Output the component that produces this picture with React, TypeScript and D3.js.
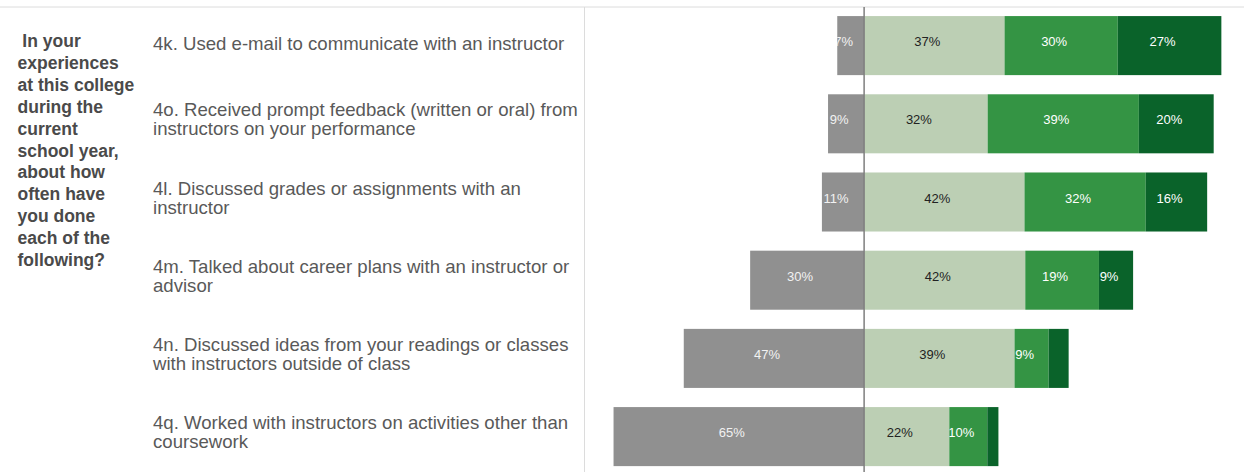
import React from "react";
import * as d3 from "d3";

const rowLabels: string[][] = [
  ["4k. Used e-mail to communicate with an instructor"],
  ["4o. Received prompt feedback (written or oral) from", "instructors on your performance"],
  ["4l. Discussed grades or assignments with an", "instructor"],
  ["4m. Talked about career plans with an instructor or", "advisor"],
  ["4n. Discussed ideas from your readings or classes", "with instructors outside of class"],
  ["4q. Worked with instructors on activities other than", "coursework"],
];
const rowIds = ["4k", "4o", "4l", "4m", "4n", "4q"];

const neverVals = [7.0, 9.4, 11.0, 29.7, 47.0, 65.3];
const sometimesVals = [36.6, 32.2, 41.8, 42.0, 39.2, 22.2];
const oftenVals = [29.5, 39.4, 31.6, 19.2, 8.9, 9.9];
const veryOftenVals = [27.0, 19.5, 16.0, 8.9, 5.2, 2.9];

const questionLines = [
  " In your",
  "experiences",
  "at this college",
  "during the",
  "current",
  "school year,",
  "about how",
  "often have",
  "you done",
  "each of the",
  "following?",
];

const W = 1244;
const H = 472;
const FONT = "Arial, 'Liberation Sans', Helvetica, sans-serif";

const positiveSeries = [
  { key: "sometimes", values: sometimesVals, fill: "#bccfb4", text: "#222222" },
  { key: "often", values: oftenVals, fill: "#349444", text: "#ffffff" },
  { key: "veryOften", values: veryOftenVals, fill: "#0a632a", text: "#ffffff" },
];

export default function App() {
  const x = d3.scaleLinear().domain([-73, 99]).range([584, 1244]);
  const y = d3
    .scaleBand<string>()
    .domain(rowIds)
    .range([6.5, 475.7])
    .paddingInner(0.245)
    .paddingOuter(0.1225);
  const bw = y.bandwidth();

  type Seg = { id: string; row: number; x0: number; x1: number; v: number; fill: string; text: string };
  const segs: Seg[] = [];
  rowIds.forEach((id, i) => {
    segs.push({ id: `${id}-never`, row: i, x0: x(-neverVals[i]), x1: x(0), v: neverVals[i], fill: "#909090", text: "#f2f2f2" });
    let acc = 0;
    positiveSeries.forEach((s) => {
      const v = s.values[i];
      segs.push({ id: `${id}-${s.key}`, row: i, x0: x(acc), x1: x(acc + v), v, fill: s.fill, text: s.text });
      acc += v;
    });
  });

  return (
    <svg
      width={W}
      height={H}
      style={{ position: "absolute", left: 0, top: 0, background: "#fff" }}
      fontFamily={FONT}
    >
      <defs>
        {segs.map((s) => (
          <clipPath id={`clip-${s.id}`} key={s.id}>
            <rect x={s.x0} y={y(rowIds[s.row])!} width={s.x1 - s.x0} height={bw} />
          </clipPath>
        ))}
      </defs>
      <line x1={0} x2={W} y1={7} y2={7} stroke="#dcdcdc" strokeWidth={1} />
      <line x1={584.5} x2={584.5} y1={7} y2={H} stroke="#dcdcdc" strokeWidth={1} />

      {questionLines.map((t, i) => (
        <text
          key={i}
          x={17.5}
          y={47 + i * 21.9}
          fontSize={17.5}
          fontWeight="bold"
          fill="#4a4a4a"
          style={{ whiteSpace: "pre" }}
        >
          {t}
        </text>
      ))}

      {rowLabels.map((lines, i) => {
        const c = y(rowIds[i])! + bw / 2;
        const first = c + 4.5 - (lines.length - 1) * 12;
        return (
          <text key={i} fontSize={18.6} fill="#595959">
            {lines.map((l, j) => (
              <tspan key={j} x={153} y={first + j * 19}>
                {l}
              </tspan>
            ))}
          </text>
        );
      })}

      {segs.map((s) => (
        <rect key={s.id} x={s.x0} y={y(rowIds[s.row])!} width={s.x1 - s.x0} height={bw} fill={s.fill} />
      ))}

      {segs
        .filter((s) => s.v >= 6)
        .map((s) => (
          <text
            key={`t-${s.id}`}
            x={(s.x0 + s.x1) / 2 - 7}
            y={y(rowIds[s.row])! + bw / 2 + 0.5}
            textAnchor="middle"
            fontSize={13}
            fill={s.text}
            clipPath={`url(#clip-${s.id})`}
          >
            {`${Math.round(s.v)}%`}
          </text>
        ))}

      <line x1={x(0)} x2={x(0)} y1={7} y2={H} stroke="#7f7f7f" strokeWidth={1.5} />
    </svg>
  );
}
